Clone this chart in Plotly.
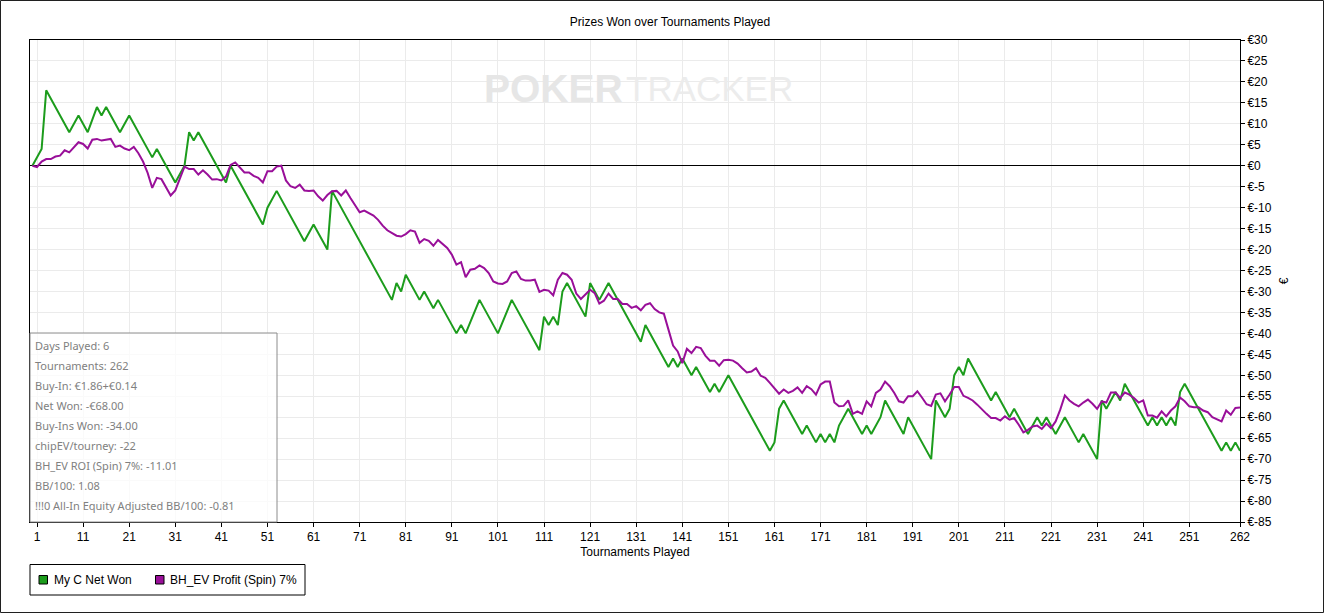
import plotly.graph_objects as go

# tournament index 0..262 (0 = start)
TOURNAMENTS = list(range(263))

# green "My C Net Won": turning points of the step line (tournament, euro)
NET_WON_T = [0, 2, 3, 8, 10, 12, 14, 15, 16, 19, 21, 26, 27, 31, 33, 34, 35, 36, 42, 43,
             50, 51, 53, 59, 61, 64, 65, 78, 79, 80, 81, 84, 85, 87, 88, 92, 93, 94, 97, 101,
             104, 110, 111, 112, 113, 114, 115, 116, 120, 121, 123, 125, 132, 133, 138, 139, 140, 141, 143, 144,
             147, 148, 149, 151, 160, 161, 162, 163, 167, 168, 170, 171, 172, 173, 174, 175, 177, 180, 181, 182,
             184, 185, 189, 190, 195, 196, 198, 199, 200, 201, 202, 203, 208, 209, 212, 213, 216, 217, 218, 219,
             220, 222, 224, 227, 228, 231, 232, 233, 235, 236, 237, 242, 243, 244, 245, 246, 247, 248, 249, 250,
             258, 259, 260, 261, 262]
NET_WON_V = [0, 4, 18, 8, 12, 8, 14, 12, 14, 8, 12, 2, 4, -4, 0, 8, 6, 8, -4, 0,
             -14, -10, -6, -18, -14, -20, -6, -32, -28, -30, -26, -32, -30, -34, -32, -40, -38, -40, -32, -40,
             -32, -44, -36, -38, -36, -38, -30, -28, -36, -28, -32, -28, -42, -38, -48, -46, -48, -46, -50, -48,
             -54, -52, -54, -50, -68, -66, -58, -56, -64, -62, -66, -64, -66, -64, -66, -62, -58, -64, -62, -64,
             -60, -56, -64, -60, -70, -56, -60, -58, -50, -48, -50, -46, -56, -54, -60, -58, -64, -62, -60, -62,
             -60, -64, -60, -66, -64, -70, -56, -58, -54, -56, -52, -62, -60, -62, -60, -62, -60, -62, -54, -52,
             -68, -66, -68, -66, -68]

# purple "BH_EV Profit (Spin) 7%" per tournament
BH_EV_V = [0, -0.3, 1.0, 1.6, 1.6, 2.2, 2.4, 3.7, 3.2, 4.5, 5.6, 5.2, 4.1, 6.2, 6.4, 6.0, 6.2, 6.4, 4.5, 4.8,
           4.1, 3.7, 4.5, 3.0, 1.0, -1.7, -5.3, -2.9, -3.2, -5.3, -7.1, -5.9, -2.9, -0.2, -0.8, -0.8, -2.1, -1.1, -2.1, -3.3,
           -3.2, -3.5, -2.6, 0.2, 0.8, -0.3, -1.6, -1.6, -2.4, -2.9, -4.0, -1.3, -1.3, -0.2, 0.0, -3.5, -4.9, -5.3, -4.5, -5.9,
           -6.0, -5.9, -7.3, -8.3, -7.0, -6.1, -6.0, -7.1, -5.9, -7.7, -9.3, -11.1, -10.7, -11.3, -11.9, -12.9, -14.3, -15.4, -16.1, -16.7,
           -16.9, -16.3, -15.4, -15.7, -18.4, -17.5, -17.9, -19.1, -17.7, -18.6, -19.6, -21.2, -23.6, -23.0, -26.6, -24.8, -24.6, -23.8, -24.4, -25.6,
           -27.6, -28.1, -28.2, -27.6, -25.6, -25.2, -27.0, -27.4, -27.4, -27.2, -30.1, -29.6, -29.8, -30.9, -27.2, -25.6, -26.0, -27.2, -30.5, -31.8,
           -30.8, -29.6, -30.4, -32.9, -32.2, -30.5, -31.8, -31.8, -33.0, -33.0, -33.9, -33.5, -34.5, -33.2, -32.8, -34.2, -35.0, -35.3, -39.1, -42.9,
           -44.3, -47.1, -43.7, -44.7, -43.2, -43.5, -45.3, -46.5, -46.5, -47.7, -46.4, -46.3, -46.5, -47.2, -48.3, -49.3, -49.1, -48.3, -50.1, -50.6,
           -51.8, -53.0, -54.4, -53.4, -54.2, -53.7, -52.9, -54.2, -52.6, -53.3, -54.6, -52.2, -51.5, -51.5, -56.5, -57.4, -57.3, -56.0, -59.2, -58.6,
           -59.2, -56.2, -57.4, -54.2, -53.4, -51.5, -52.6, -54.2, -56.2, -56.5, -55.0, -55.0, -53.8, -55.3, -56.9, -57.3, -54.6, -54.3, -56.2, -54.6,
           -52.8, -52.8, -54.9, -55.4, -56.0, -57.0, -58.2, -59.2, -60.2, -60.2, -60.8, -59.8, -60.6, -60.2, -61.8, -63.6, -63.0, -62.2, -62.0, -62.8,
           -61.5, -62.6, -61.0, -58.2, -54.8, -56.0, -56.8, -57.4, -56.5, -55.8, -56.8, -58.0, -56.2, -56.5, -54.1, -54.1, -55.4, -54.1, -54.6, -55.4,
           -56.5, -56.0, -59.6, -59.6, -60.1, -58.6, -59.8, -58.4, -57.4, -55.3, -56.2, -57.4, -57.6, -57.6, -58.4, -58.8, -60.0, -60.6, -61.0, -58.4,
           -59.4, -57.8, -57.7]

X_TICKS = [1, 11, 21, 31, 41, 51, 61, 71, 81, 91, 101, 111, 121, 131, 141, 151, 161, 171,
           181, 191, 201, 211, 221, 231, 241, 251, 262]
Y_TICKS = [30, 25, 20, 15, 10, 5, 0, -5, -10, -15, -20, -25, -30, -35, -40, -45, -50, -55,
           -60, -65, -70, -75, -80, -85]
Y_TICK_TEXT = ["€%d" % v for v in Y_TICKS]

SERIES_NAMES = ["My C Net Won", "BH_EV Profit (Spin) 7%"]
SERIES_COLORS = ["#1c9c1c", "#990f99"]

STATS_LINES = [
    "Days Played: 6",
    "Tournaments: 262",
    "Buy-In: €1.86+€0.14",
    "Net Won: -€68.00",
    "Buy-Ins Won: -34.00",
    "chipEV/tourney: -22",
    "BH_EV ROI (Spin) 7%: -11.01",
    "BB/100: 1.08",
    "!!!0 All-In Equity Adjusted BB/100: -0.81",
]

W, H = 1325, 614
PL, PR, PT, PB = 30, 1240, 40, 522
FONT = "Liberation Sans, Arial, sans-serif"


def px(x):
    return (x - PL) / (PR - PL)


def py(y):
    return (PB - y) / (PB - PT)


fig = go.Figure()
fig.add_trace(go.Scatter(x=NET_WON_T, y=NET_WON_V, mode="lines", name=SERIES_NAMES[0],
                         line=dict(color=SERIES_COLORS[0], width=2), showlegend=False))
fig.add_trace(go.Scatter(x=TOURNAMENTS, y=BH_EV_V, mode="lines", name=SERIES_NAMES[1],
                         line=dict(color=SERIES_COLORS[1], width=2), showlegend=False))

shapes = []
annotations = []

# outer frame
shapes.append(dict(type="rect", xref="paper", yref="paper",
                   x0=px(0.5), x1=px(W - 1.5), y0=py(H - 1.5), y1=py(0.5),
                   line=dict(color="#202020", width=1), layer="below"))

# stats box
shapes.append(dict(type="rect", xref="paper", yref="paper",
                   x0=px(30), x1=px(277), y0=py(522), y1=py(333),
                   line=dict(color="#8c8c8c", width=1), fillcolor="rgba(255,255,255,0.75)", layer="above"))
for i, line in enumerate(STATS_LINES):
    annotations.append(dict(text=line, xref="paper", yref="paper", x=px(33), y=py(345.7 + 20 * i),
                            xanchor="left", yanchor="middle", showarrow=False,
                            font=dict(family="Noto Sans, Open Sans, sans-serif", size=11, color="#808080")))

# legend box
shapes.append(dict(type="rect", xref="paper", yref="paper",
                   x0=px(30), x1=px(305), y0=py(595), y1=py(564.5),
                   line=dict(color="#000000", width=1), fillcolor="white"))
legend_x = [39, 155.5]
for name, color, lx in zip(SERIES_NAMES, SERIES_COLORS, legend_x):
    shapes.append(dict(type="rect", xref="paper", yref="paper",
                       x0=px(lx), x1=px(lx + 8.5), y0=py(584), y1=py(575.5),
                       line=dict(color="#000000", width=1), fillcolor=color))
    annotations.append(dict(text=name, xref="paper", yref="paper", x=px(lx + 12.5), y=py(580),
                            xanchor="left", yanchor="middle", showarrow=False,
                            font=dict(family=FONT, size=12, color="#000000")))

# watermark
annotations.append(dict(text="<b>POKER</b>", xref="paper", yref="paper",
                        x=px(625), y=py(88.5), xanchor="right", yanchor="middle", showarrow=False,
                        font=dict(family=FONT, size=39, color="#e6e6e6")))
annotations.append(dict(text="TRACKER", xref="paper", yref="paper",
                        x=px(624), y=py(88.5), xanchor="left", yanchor="middle", showarrow=False,
                        font=dict(family=FONT, size=35, color="#ececec")))

fig.update_layout(
    width=W, height=H, autosize=False,
    margin=dict(l=PL, r=W - PR, t=PT, b=H - PB),
    paper_bgcolor="white", plot_bgcolor="white",
    font=dict(family=FONT, size=12, color="#000000"),
    title=dict(text="Prizes Won over Tournaments Played", xref="container", yref="container",
               x=670 / W, y=1 - 22 / H, xanchor="center", yanchor="middle",
               font=dict(family=FONT, size=12, color="#000000")),
    showlegend=False,
    hovermode=False,
    shapes=shapes,
    annotations=annotations,
)

fig.update_xaxes(
    range=[-0.52, 262], tickmode="array", tickvals=X_TICKS,
    showgrid=True, gridcolor="#ebebeb", gridwidth=1,
    showline=True, linecolor="#000000", linewidth=1, mirror=True,
    ticks="outside", ticklen=4, tickcolor="#000000",
    zeroline=False,
    title=dict(text="Tournaments Played", standoff=4, font=dict(family=FONT, size=12)),
    tickfont=dict(family=FONT, size=12),
)
fig.update_yaxes(
    range=[-85, 30], side="right", tickmode="array", tickvals=Y_TICKS, ticktext=Y_TICK_TEXT,
    showgrid=True, gridcolor="#ebebeb", gridwidth=1,
    showline=True, linecolor="#000000", linewidth=1, mirror=True,
    ticks="outside", ticklen=4, tickcolor="#000000",
    zeroline=True, zerolinecolor="#000000", zerolinewidth=1,
    title=dict(text="€", standoff=8, font=dict(family=FONT, size=12)),
    tickfont=dict(family=FONT, size=12),
)

# page body has a default 8px margin; drop it so the figure sits at the window origin
fig.write_html("out.html", config={"displayModeBar": False},
               post_script="document.body.style.margin='0';")
